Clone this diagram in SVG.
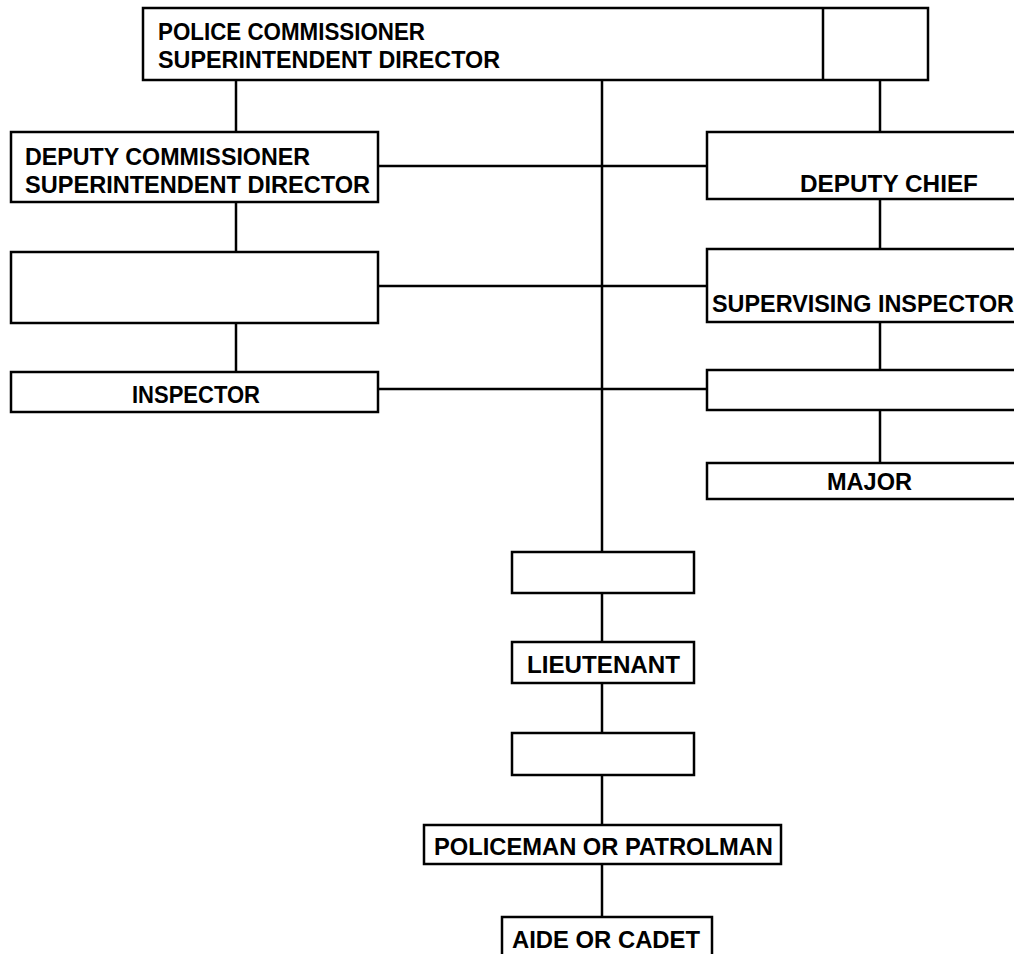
<svg xmlns="http://www.w3.org/2000/svg" width="1014" height="954" viewBox="0 0 1014 954">
<style>
.box{fill:#fff;stroke:#000;stroke-width:2.5}
.ln{stroke:#000;stroke-width:2.5;fill:none}
.t{font-family:"Liberation Sans",Arial,sans-serif;font-weight:bold;font-size:23px;fill:#000}
</style>
<rect width="1014" height="954" fill="#fff"/>
<g id="connectors">
<line class="ln" x1="236" y1="80" x2="236" y2="132"/>
<line class="ln" x1="602" y1="80" x2="602" y2="552"/>
<line class="ln" x1="880" y1="80" x2="880" y2="132"/>
<line class="ln" x1="236" y1="202" x2="236" y2="252"/>
<line class="ln" x1="236" y1="323" x2="236" y2="372"/>
<line class="ln" x1="378" y1="166" x2="707" y2="166"/>
<line class="ln" x1="378" y1="286" x2="707" y2="286"/>
<line class="ln" x1="378" y1="389" x2="707" y2="389"/>
<line class="ln" x1="880" y1="199" x2="880" y2="249"/>
<line class="ln" x1="880" y1="322" x2="880" y2="370"/>
<line class="ln" x1="880" y1="410" x2="880" y2="463"/>
<line class="ln" x1="602" y1="593" x2="602" y2="642"/>
<line class="ln" x1="602" y1="683" x2="602" y2="733"/>
<line class="ln" x1="602" y1="775" x2="602" y2="825"/>
<line class="ln" x1="602" y1="864" x2="602" y2="917"/>
</g>
<g id="police-commissioner">
<rect class="box" x="143" y="8" width="785" height="72"/>
<line class="ln" x1="823" y1="8" x2="823" y2="80"/>
<text class="t" x="158" y="40" textLength="267" lengthAdjust="spacingAndGlyphs">POLICE COMMISSIONER</text>
<text class="t" x="158" y="68" textLength="342" lengthAdjust="spacingAndGlyphs">SUPERINTENDENT DIRECTOR</text>
</g>
<g id="deputy-commissioner">
<rect class="box" x="11" y="132" width="367" height="70"/>
<text class="t" x="25" y="165" textLength="285" lengthAdjust="spacingAndGlyphs">DEPUTY COMMISSIONER</text>
<text class="t" x="25" y="193" textLength="345" lengthAdjust="spacingAndGlyphs">SUPERINTENDENT DIRECTOR</text>
</g>
<g id="left-blank">
<rect class="box" x="11" y="252" width="367" height="71"/>
</g>
<g id="inspector">
<rect class="box" x="11" y="372" width="367" height="40"/>
<text class="t" x="132" y="403" textLength="128" lengthAdjust="spacingAndGlyphs">INSPECTOR</text>
</g>
<g id="deputy-chief">
<rect class="box" x="707" y="132" width="320" height="67"/>
<text class="t" x="800" y="192" textLength="178" lengthAdjust="spacingAndGlyphs">DEPUTY CHIEF</text>
</g>
<g id="supervising-inspector">
<rect class="box" x="707" y="249" width="320" height="73"/>
<text class="t" x="712" y="312" textLength="302" lengthAdjust="spacingAndGlyphs">SUPERVISING INSPECTOR</text>
</g>
<g id="right-blank">
<rect class="box" x="707" y="370" width="320" height="40"/>
</g>
<g id="major">
<rect class="box" x="707" y="463" width="320" height="36"/>
<text class="t" x="827" y="490" textLength="85" lengthAdjust="spacingAndGlyphs">MAJOR</text>
</g>
<g id="center-blank-1">
<rect class="box" x="512" y="552" width="182" height="41"/>
</g>
<g id="lieutenant">
<rect class="box" x="512" y="642" width="182" height="41"/>
<text class="t" x="527" y="673" textLength="153" lengthAdjust="spacingAndGlyphs">LIEUTENANT</text>
</g>
<g id="center-blank-2">
<rect class="box" x="512" y="733" width="182" height="42"/>
</g>
<g id="policeman">
<rect class="box" x="424" y="825" width="357" height="39"/>
<text class="t" x="434" y="855" textLength="339" lengthAdjust="spacingAndGlyphs">POLICEMAN OR PATROLMAN</text>
</g>
<g id="aide">
<rect class="box" x="502" y="917" width="210" height="45"/>
<text class="t" x="512" y="948" textLength="188" lengthAdjust="spacingAndGlyphs">AIDE OR CADET</text>
</g>
</svg>
